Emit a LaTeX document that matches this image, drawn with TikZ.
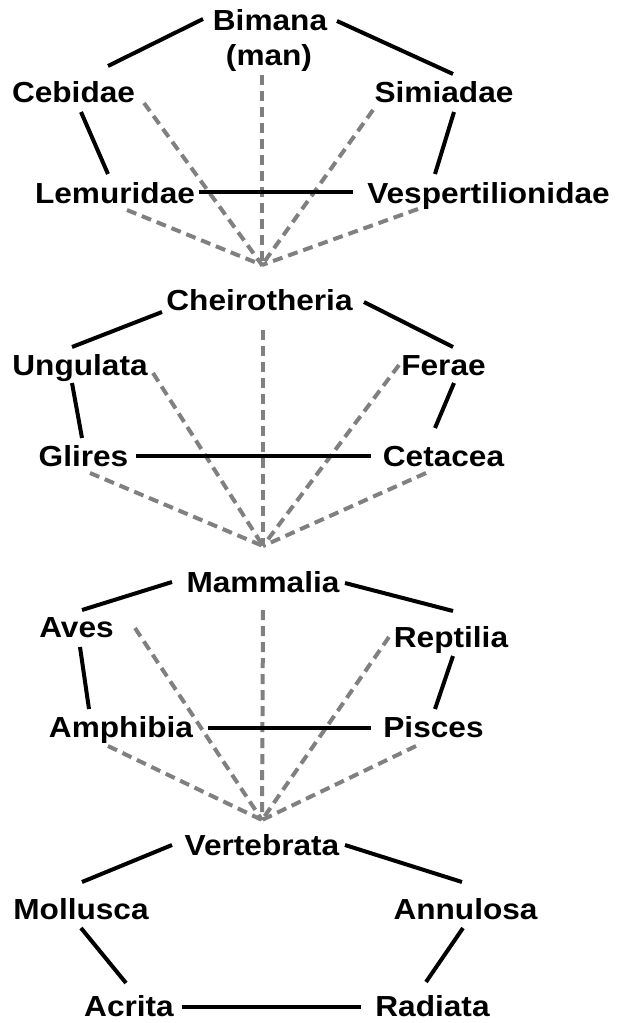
\documentclass[tikz,border=0pt]{standalone}
\usepackage{fontspec}
\newfontfamily\lab{Liberation Sans}[FakeStretch=1.09]
\begin{document}
\begin{tikzpicture}[x=1pt,y=-1pt,
  lbl/.style={anchor=base, inner sep=0pt, font=\lab\bfseries\fontsize{29}{34}\selectfont},
  link/.style={draw=black, line width=4pt},
  dlink/.style={draw=black!50, line width=4pt, dash pattern=on 10pt off 6pt}]
\useasboundingbox (0,0) rectangle (616,1023);
% ---- section 1
\node[lbl] (bim) at (270,30) {Bimana};
\node[lbl] (man) at (269,65) {(man)};
\node[lbl] (ceb) at (73.5,102) {Cebidae};
\node[lbl] (sim) at (444,102) {Simiadae};
\node[lbl] (lem) at (115,203) {Lemuridae};
\node[lbl] (ves) at (488.5,203) {Vespertilionidae};
\coordinate (c1) at (262,265);
\draw[dlink] ([shift={(-7,10)}]man.base) -- (c1);
\draw[dlink] ([shift={(70.5,1)}]ceb.base) -- (c1);
\draw[dlink] ([shift={(-71,8)}]sim.base) -- (c1);
\draw[dlink] ([shift={(12,7)}]lem.base) -- (c1);
\draw[dlink] ([shift={(-70.5,6)}]ves.base) -- (c1);
\draw[link] ([shift={(-67,-11)}]bim.base) -- ([shift={(34.5,-36)}]ceb.base);
\draw[link] ([shift={(67,-9)}]bim.base) -- ([shift={(9,-28)}]sim.base);
\draw[link] ([shift={(7.5,10)}]ceb.base) -- ([shift={(-7,-29)}]lem.base);
\draw[link] ([shift={(10,10)}]sim.base) -- ([shift={(-53.5,-29)}]ves.base);
\draw[link] ([shift={(84,-11)}]lem.base) -- ([shift={(-135.5,-11)}]ves.base);
% ---- section 2
\node[lbl] (che) at (259.5,310) {Cheirotheria};
\node[lbl] (ung) at (80,375) {Ungulata};
\node[lbl] (fer) at (443.5,375) {Ferae};
\node[lbl] (gli) at (83.5,466) {Glires};
\node[lbl] (cet) at (443.5,466) {Cetacea};
\coordinate (c2) at (263,546);
\draw[dlink] ([shift={(3.5,20)}]che.base) -- (c2);
\draw[dlink] ([shift={(73,-2)}]ung.base) -- (c2);
\draw[dlink] ([shift={(-44.5,-10)}]fer.base) -- (c2);
\draw[dlink] ([shift={(6.5,7)}]gli.base) -- (c2);
\draw[dlink] ([shift={(-17.5,7)}]cet.base) -- (c2);
\draw[link] ([shift={(-97.5,2)}]che.base) -- ([shift={(-8,-28)}]ung.base);
\draw[link] ([shift={(104.5,-8)}]che.base) -- ([shift={(9.5,-28)}]fer.base);
\draw[link] ([shift={(-8,8)}]ung.base) -- ([shift={(-1.5,-28)}]gli.base);
\draw[link] ([shift={(10.5,8)}]fer.base) -- ([shift={(-8.5,-38)}]cet.base);
\draw[link] ([shift={(52.5,-10)}]gli.base) -- ([shift={(-72.5,-10)}]cet.base);
% ---- section 3
\node[lbl] (mam) at (263,592) {Mammalia};
\node[lbl] (ave) at (76.5,637) {Aves};
\node[lbl] (rep) at (451,647) {Reptilia};
\node[lbl] (amp) at (121,737) {Amphibia};
\node[lbl] (pis) at (433.5,737) {Pisces};
\coordinate (c3) at (262,820);
\draw[dlink] ([shift={(0,18)}]mam.base) -- (c3);
\draw[dlink] ([shift={(58.5,-9)}]ave.base) -- (c3);
\draw[dlink] ([shift={(-62,-10)}]rep.base) -- (c3);
\draw[dlink] ([shift={(-13,9)}]amp.base) -- (c3);
\draw[dlink] ([shift={(-17.5,9)}]pis.base) -- (c3);
\draw[link] ([shift={(-91,-10)}]mam.base) -- ([shift={(5.5,-27)}]ave.base);
\draw[link] ([shift={(82,-9)}]mam.base) -- ([shift={(2,-36)}]rep.base);
\draw[link] ([shift={(3.5,10)}]ave.base) -- ([shift={(-32,-28)}]amp.base);
\draw[link] ([shift={(2,9)}]rep.base) -- ([shift={(1.5,-28)}]pis.base);
\draw[link] ([shift={(87,-9)}]amp.base) -- ([shift={(-62.5,-9)}]pis.base);
% ---- section 4
\node[lbl] (ver) at (262,855) {Vertebrata};
\node[lbl] (mol) at (81,919) {Mollusca};
\node[lbl] (ann) at (465.5,919) {Annulosa};
\node[lbl] (acr) at (129,1016) {Acrita};
\node[lbl] (rad) at (432.5,1016) {Radiata};
\draw[link] ([shift={(-90,-10)}]ver.base) -- ([shift={(1,-37)}]mol.base);
\draw[link] ([shift={(83,-10)}]ver.base) -- ([shift={(-3.5,-37)}]ann.base);
\draw[link] ([shift={(0,9)}]mol.base) -- ([shift={(-3,-33)}]acr.base);
\draw[link] ([shift={(-2.5,9)}]ann.base) -- ([shift={(-6.5,-34)}]rad.base);
\draw[link] ([shift={(53,-9)}]acr.base) -- ([shift={(-71.5,-9)}]rad.base);
\end{tikzpicture}
\end{document}
